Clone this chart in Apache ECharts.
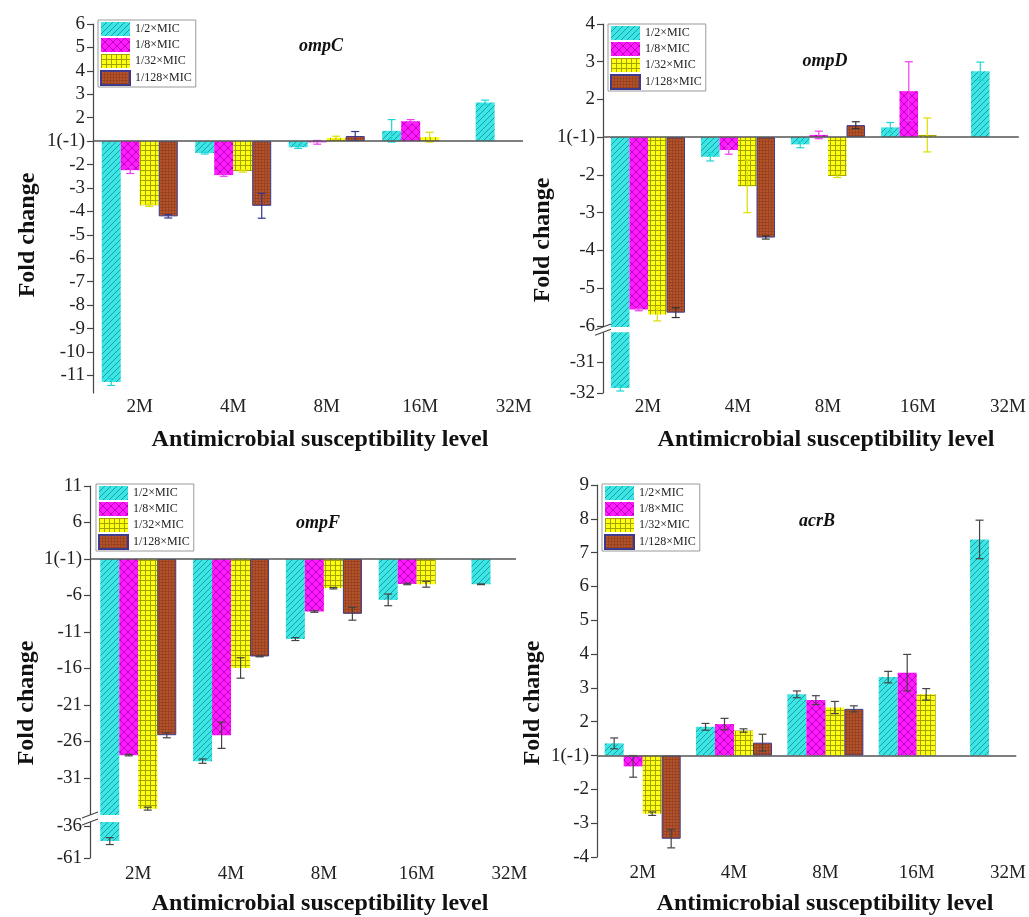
<!DOCTYPE html>
<html><head><meta charset="utf-8">
<script src="https://cdn.jsdelivr.net/npm/echarts@6/dist/echarts.min.js"></script>
<style>html,body{margin:0;padding:0;background:#fff}#c{width:1029px;height:917px}</style>
</head><body><div id="c"></div>
<script>
const categories = ['2M', '4M', '8M', '16M', '32M'];
const seriesNames = ['1/2×MIC', '1/8×MIC', '1/32×MIC', '1/128×MIC'];

// ompC fold changes and errors
const ompC_half = [-11.28, -1.51, -1.26, 1.44, 2.65];
const ompC_eighth = [-2.24, -2.45, -1.05, 1.85, null];
const ompC_32nd = [-3.74, -2.28, 1.14, 1.17, null];
const ompC_128th = [-4.21, -3.76, 1.22, null, null];
const ompC_half_err = [0.15, 0.04, 0.05, 0.48, 0.1];
const ompC_eighth_err = [0.14, 0.05, 0.08, 0.07, null];
const ompC_32nd_err = [0.05, 0.04, 0.07, 0.21, null];
const ompC_128th_err = [0.07, 0.53, 0.19, null, null];
const ompC_ticks = [6, 5, 4, 3, 2, 1, -2, -3, -4, -5, -6, -7, -8, -9, -10, -11];

// ompD
const ompD_half = [-31.84, -1.52, -1.19, 1.26, 2.75];
const ompD_eighth = [-5.57, -1.34, 1.06, 2.22, null];
const ompD_32nd = [-5.70, -2.30, -2.03, 1.06, null];
const ompD_128th = [-5.65, -3.66, 1.32, null, null];
const ompD_half_err = [0.1, 0.11, 0.09, 0.13, 0.24];
const ompD_eighth_err = [0.03, 0.11, 0.1, 0.78, null];
const ompD_32nd_err = [0.17, 0.7, 0.04, 0.45, null];
const ompD_128th_err = [0.13, 0.04, 0.09, null, null];
const ompD_ticks = [4, 3, 2, 1, -2, -3, -4, -5, -6, -31, -32];

// ompF
const ompF_half = [-47.8, -28.69, -11.97, -6.6, -4.46];
const ompF_eighth = [-27.87, -25.14, -8.2, -4.42, null];
const ompF_32nd = [-35.2, -15.93, -5.0, -4.46, null];
const ompF_128th = [-25.14, -14.35, -8.51, null, null];
const ompF_half_err = [2.7, 0.3, 0.2, 0.8, 0.05];
const ompF_eighth_err = [0.1, 1.8, 0.1, 0.1, null];
const ompF_32nd_err = [0.2, 1.4, 0.1, 0.4, null];
const ompF_128th_err = [0.35, 0.05, 0.87, null, null];
const ompF_ticks = [11, 6, 1, -6, -11, -16, -21, -26, -31, -36, -61];

// acrB
const acrB_half = [1.36, 1.85, 2.81, 3.32, 7.39];
const acrB_eighth = [-1.32, 1.93, 2.64, 3.45, null];
const acrB_32nd = [-2.72, 1.74, 2.42, 2.81, null];
const acrB_128th = [-3.46, 1.38, 2.38, null, null];
const acrB_half_err = [0.16, 0.1, 0.1, 0.17, 0.57];
const acrB_eighth_err = [0.32, 0.17, 0.13, 0.54, null];
const acrB_32nd_err = [0.05, 0.05, 0.18, 0.17, null];
const acrB_128th_err = [0.27, 0.25, 0.09, null, null];
const acrB_ticks = [9, 8, 7, 6, 5, 4, 3, 2, 1, -2, -3, -4];

const FONT = '"Liberation Serif", "Times New Roman", serif';

function makePattern(kind) {
  const c = document.createElement('canvas');
  const ctx = c.getContext('2d');
  let n;
  if (kind === 0) {
    n = 6; c.width = c.height = n;
    ctx.fillStyle = '#3ce6e6'; ctx.fillRect(0, 0, n, n);
    ctx.strokeStyle = '#1f9e9e'; ctx.lineWidth = 1; ctx.beginPath();
    for (const o of [-n, 0, n]) { ctx.moveTo(o, n); ctx.lineTo(o + n, 0); }
    ctx.stroke();
  } else if (kind === 1) {
    n = 8; c.width = c.height = n;
    ctx.fillStyle = '#ff1aff'; ctx.fillRect(0, 0, n, n);
    ctx.strokeStyle = '#b800b8'; ctx.lineWidth = 1; ctx.beginPath();
    ctx.moveTo(0, 0); ctx.lineTo(n, n); ctx.moveTo(0, n); ctx.lineTo(n, 0);
    ctx.stroke();
  } else if (kind === 2) {
    n = 5; c.width = c.height = n;
    ctx.fillStyle = '#ffff14'; ctx.fillRect(0, 0, n, n);
    ctx.strokeStyle = '#a3a300'; ctx.lineWidth = 1; ctx.beginPath();
    ctx.moveTo(0.5, 0); ctx.lineTo(0.5, n); ctx.moveTo(0, 0.5); ctx.lineTo(n, 0.5);
    ctx.stroke();
  } else {
    n = 3; c.width = c.height = n;
    ctx.fillStyle = '#b5532b'; ctx.fillRect(0, 0, n, n);
    ctx.strokeStyle = '#9a4322'; ctx.lineWidth = 1; ctx.beginPath();
    ctx.moveTo(0.5, 0); ctx.lineTo(0.5, n); ctx.moveTo(0, 0.5); ctx.lineTo(n, 0.5);
    ctx.stroke();
  }
  return { image: c, repeat: 'repeat' };
}
const patterns = [0, 1, 2, 3].map(makePattern);

const panels = [
  { gene: 'ompC', vals: [ompC_half, ompC_eighth, ompC_32nd, ompC_128th],
    errs: [ompC_half_err, ompC_eighth_err, ompC_32nd_err, ompC_128th_err], ticks: ompC_ticks, brk: null,
    grid: { left: 93, top: 24, width: 430, height: 369 }, yMin: -10.75, yMax: 5, xMin: 0.5, xMax: 5.1, bw: 19, lm: 5,
    errColors: ['#1fd6d6', '#f03cf0', '#dede00', '#35358f'],
    legend: [98, 20], title: [321, 46], yName: [28, 235], xName: [320, 440] },
  { gene: 'ompD', vals: [ompD_half, ompD_eighth, ompD_32nd, ompD_128th],
    errs: [ompD_half_err, ompD_eighth_err, ompD_32nd_err, ompD_128th_err], ticks: ompD_ticks,
    brk: { limit: -6, refFold: -31, refP: -5.97, scale: 0.806, gapTop: -5.03, gapBottom: -5.17 },
    grid: { left: 603, top: 24, width: 422, height: 369 }, yMin: -6.78, yMax: 3, xMin: 0.5, xMax: 5.12, bw: 18.5, lm: 5,
    errColors: ['#1fd6d6', '#f03cf0', '#dede00', '#333333'],
    legend: [608, 24], title: [825, 61], yName: [543, 240], xName: [826, 440] },
  { gene: 'ompF', vals: [ompF_half, ompF_eighth, ompF_32nd, ompF_128th],
    errs: [ompF_half_err, ompF_eighth_err, ompF_32nd_err, ompF_128th_err], ticks: ompF_ticks,
    brk: { limit: -35.5, refFold: -36, refP: -36.58, scale: 0.175, gapTop: -35.07, gapBottom: -36.03 },
    grid: { left: 90, top: 486, width: 426, height: 372 }, yMin: -40.96, yMax: 10, xMin: 0.48, xMax: 5.07, bw: 19, lm: 7,
    errColors: ['#444', '#444', '#444', '#444'],
    legend: [96, 484], title: [318, 523], yName: [27, 703], xName: [320, 904] },
  { gene: 'acrB', vals: [acrB_half, acrB_eighth, acrB_32nd, acrB_128th],
    errs: [acrB_half_err, acrB_eighth_err, acrB_32nd_err, acrB_128th_err], ticks: acrB_ticks, brk: null,
    grid: { left: 597, top: 485, width: 425, height: 372 }, yMin: -3, yMax: 8, xMin: 0.5, xMax: 5.09, bw: 19, lm: 7,
    errColors: ['#444', '#444', '#444', '#444'],
    legend: [602, 484], title: [817, 521], yName: [533, 703], xName: [825, 904] }
];

// fold change -> axis position: 1 and -1 share the baseline; optional compressed lower segment
function toPlot(fold, brk) {
  if (brk && fold < brk.limit) return brk.refP + (fold - brk.refFold) * brk.scale;
  return fold >= 1 ? fold - 1 : fold + 1;
}
function localScale(fold, brk) {
  return (brk && fold < brk.limit) ? brk.scale : 1;
}

const option = { animation: false, backgroundColor: '#fff', grid: [], xAxis: [], yAxis: [], series: [], legend: [], graphic: [] };

panels.forEach((P, k) => {
  option.grid.push(Object.assign({ containLabel: false }, P.grid));
  option.xAxis.push({
    gridIndex: k, type: 'value', min: P.xMin, max: P.xMax,
    axisLine: { show: false }, axisTick: { show: false }, splitLine: { show: false },
    axisLabel: { customValues: [1, 2, 3, 4, 5], formatter: v => categories[Math.round(v) - 1] || '',
      fontFamily: FONT, fontSize: 19, color: '#222', margin: P.lm }
  });
  const tickPs = P.ticks.map(t => toPlot(t, P.brk));
  const labelMap = {};
  P.ticks.forEach((t, i) => { labelMap[tickPs[i].toFixed(4)] = t === 1 ? '1(-1)' : String(t); });
  option.yAxis.push({
    gridIndex: k, type: 'value', min: P.yMin, max: P.yMax,
    axisLine: { show: true, onZero: false, lineStyle: { color: '#444', width: 1.2 } },
    axisTick: { show: true, customValues: tickPs, length: 6, lineStyle: { color: '#444', width: 1.2 } },
    axisLabel: { customValues: tickPs, formatter: v => labelMap[v.toFixed(4)] || '',
      fontFamily: FONT, fontSize: 19, color: '#222', margin: 8 },
    splitLine: { show: false }
  });
  const errData = [];
  P.vals.forEach((arr, s) => {
    const data = [];
    arr.forEach((v, i) => {
      if (v == null) return;
      const p = toPlot(v, P.brk);
      data.push([i + 1, p]);
      errData.push([i + 1, p, P.errs[s][i] * localScale(v, P.brk), s]);
    });
    const ser = {
      type: 'bar', name: seriesNames[s], xAxisIndex: k, yAxisIndex: k,
      barWidth: P.bw, barGap: '0%', data: data, silent: true, z: 2,
      itemStyle: { color: patterns[s], borderColor: s === 3 ? '#3d3a8c' : 'transparent', borderWidth: s === 3 ? 1 : 0 },
      emphasis: { disabled: true }
    };
    if (s === 0) {
      ser.markLine = { silent: true, symbol: ['none', 'none'], label: { show: false },
        lineStyle: { color: '#555', width: 1.6, type: 'solid' }, emphasis: { disabled: true },
        data: [{ yAxis: 0 }] };
    }
    option.series.push(ser);
  });
  option.series.push({
    type: 'custom', xAxisIndex: k, yAxisIndex: k, data: errData, silent: true, z: 4, clip: false,
    encode: { x: 0, y: 1 },
    renderItem: (params, api) => {
      const x = api.value(0), p = api.value(1), e = api.value(2), s = api.value(3);
      const cx = api.coord([x, p])[0] + (s - 1.5) * P.bw;
      const yt = api.coord([x, p + e])[1], yb = api.coord([x, p - e])[1];
      const h = 4, st = { stroke: P.errColors[s], lineWidth: 1.2 };
      return { type: 'group', children: [
        { type: 'line', shape: { x1: cx, y1: yt, x2: cx, y2: yb }, style: st },
        { type: 'line', shape: { x1: cx - h, y1: yt, x2: cx + h, y2: yt }, style: st },
        { type: 'line', shape: { x1: cx - h, y1: yb, x2: cx + h, y2: yb }, style: st }
      ] };
    }
  });
  if (P.brk) {
    const B = P.brk;
    option.series.push({
      type: 'custom', xAxisIndex: k, yAxisIndex: k, data: [[P.xMin, B.gapTop]], silent: true, z: 10, clip: false,
      encode: { x: 0, y: 1 },
      renderItem: (params, api) => {
        const a = api.coord([P.xMin, B.gapTop]);
        const b = api.coord([P.xMin, B.gapBottom]);
        const xr = api.coord([1.5, 0])[0];
        const st = { stroke: '#444', lineWidth: 1.2 };
        return { type: 'group', children: [
          { type: 'rect', shape: { x: a[0] - 4, y: a[1], width: xr - a[0] + 4, height: b[1] - a[1] }, style: { fill: '#fff' } },
          { type: 'line', shape: { x1: a[0] - 8, y1: a[1] + 3, x2: a[0] + 8, y2: a[1] - 3 }, style: st },
          { type: 'line', shape: { x1: a[0] - 8, y1: b[1] + 3, x2: a[0] + 8, y2: b[1] - 3 }, style: st }
        ] };
      }
    });
  }
  option.legend.push({
    left: P.legend[0], top: P.legend[1], orient: 'vertical', data: seriesNames, icon: 'rect',
    itemWidth: 29, itemHeight: 14, itemGap: 2, padding: [2, 4, 1, 2],
    borderColor: '#999', borderWidth: 1, backgroundColor: '#fff', selectedMode: false,
    textStyle: { fontFamily: FONT, fontSize: 12, color: '#222' }
  });
  option.graphic.push(
    { type: 'text', x: P.title[0], y: P.title[1], silent: true,
      style: { text: P.gene, font: 'italic bold 18px ' + FONT, fill: '#111', align: 'center', verticalAlign: 'middle' } },
    { type: 'text', x: P.yName[0], y: P.yName[1], rotation: Math.PI / 2, silent: true,
      style: { text: 'Fold change', font: 'bold 24px ' + FONT, fill: '#111', align: 'center', verticalAlign: 'middle' } },
    { type: 'text', x: P.xName[0], y: P.xName[1], silent: true,
      style: { text: 'Antimicrobial susceptibility level', font: 'bold 24px ' + FONT, fill: '#111', align: 'center', verticalAlign: 'middle' } }
  );
});

const chart = echarts.init(document.getElementById('c'), null, { renderer: 'canvas' });
chart.setOption(option);
</script>
</body></html>
